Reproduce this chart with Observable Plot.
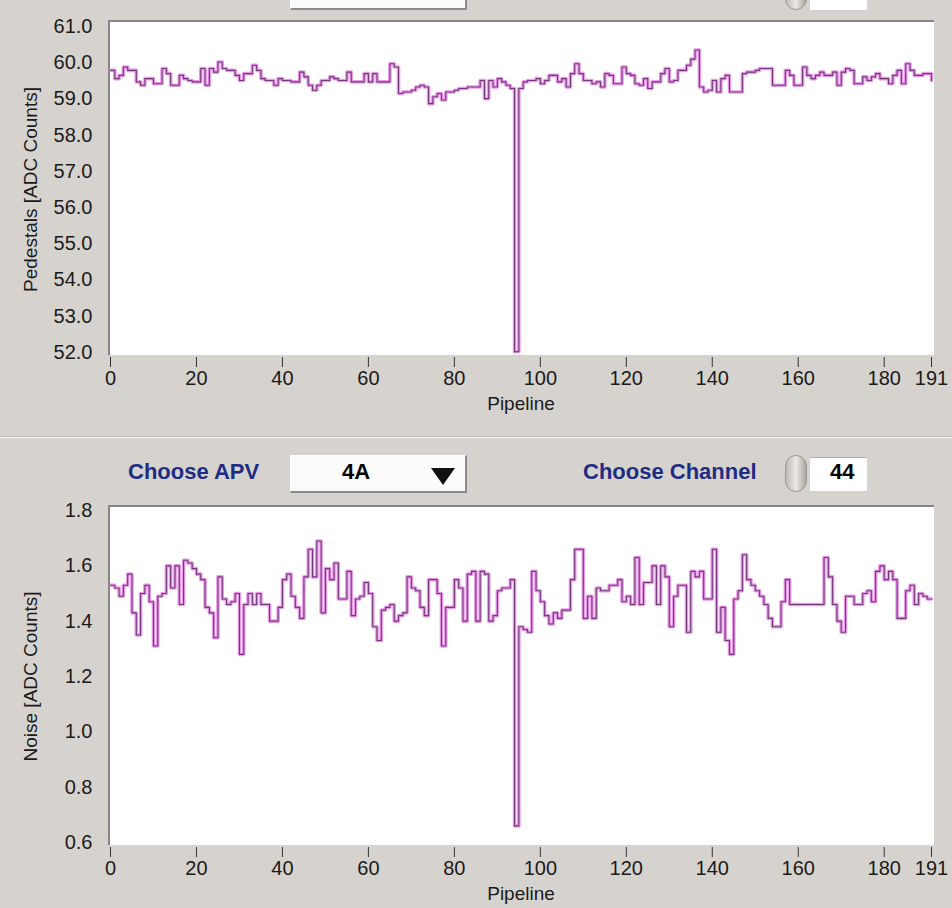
<!DOCTYPE html>
<html>
<head>
<meta charset="utf-8">
<script src="https://cdn.jsdelivr.net/npm/d3@7"></script>
<script src="https://cdn.jsdelivr.net/npm/@observablehq/plot@0.6"></script>
<style>
html,body{margin:0;padding:0;background:#d6d3ce;}
#page{position:relative;width:952px;height:908px;overflow:hidden;background:#d6d3ce;font-family:"Liberation Sans",Arial,sans-serif;}
.panel{position:absolute;background:#fff;border-top:2px solid #858585;border-left:2px solid #858585;box-sizing:border-box;}
.chart{position:absolute;left:0;}
.lbl{position:absolute;font-weight:bold;font-size:22px;color:#1f2c84;line-height:26px;white-space:nowrap;}
.drop{position:absolute;background:#fbfbfb;border-top:1px solid #fff;border-left:1px solid #fff;border-right:2px solid #8a8a8a;border-bottom:2px solid #8a8a8a;box-sizing:border-box;}
.val{position:absolute;font-weight:bold;font-size:22px;color:#000;line-height:26px;}
.tri{position:absolute;width:0;height:0;border-left:12px solid transparent;border-right:12px solid transparent;border-top:17px solid #111;}
.spin{position:absolute;width:22px;height:37px;border-radius:11px;background:linear-gradient(90deg,#bdbab4,#ebe9e4 50%,#a9a6a0);border:1px solid #9a9892;box-sizing:border-box;}
.box{position:absolute;background:#fff;border-top:1px solid #b0b0b0;box-sizing:border-box;}
.sep{position:absolute;left:0;width:952px;height:2px;border-top:1px solid #bdbab5;background:#f3f2ef;box-sizing:border-box;}
</style>
</head>
<body>
<div id="page">
  <!-- partially visible controls at top -->
  <div class="drop" style="left:290px;top:-28px;width:177px;height:38px;"></div>
  <div class="spin" style="left:785px;top:-27px;"></div>
  <div class="box" style="left:810px;top:-24px;width:57px;height:34px;"></div>

  <div class="panel" style="left:108px;top:20px;width:826px;height:335px;"></div>
  <div class="panel" style="left:108px;top:505px;width:826px;height:340px;"></div>

  <div class="sep" style="top:436px;"></div>

  <div class="lbl" style="left:128px;top:459px;">Choose APV</div>
  <div class="drop" style="left:290px;top:455px;width:177px;height:38px;"></div>
  <div class="val" style="left:342px;top:459px;">4A</div>
  <div class="tri" style="left:431px;top:468px;"></div>
  <div class="lbl" style="left:583px;top:459px;">Choose Channel</div>
  <div class="spin" style="left:785px;top:455px;"></div>
  <div class="box" style="left:810px;top:457px;width:57px;height:34px;"></div>
  <div class="val" style="left:830px;top:459px;">44</div>

  <div id="c1" class="chart" style="top:0px;"></div>
  <div id="c2" class="chart" style="top:440px;"></div>
</div>
<script>
// ---- data ----
const pipeline = d3.range(0, 192);
const xTicks = [0, 20, 40, 60, 80, 100, 120, 140, 160, 180, 191];
const pedestalTicks = [52, 53, 54, 55, 56, 57, 58, 59, 60, 61];
const noiseTicks = [0.6, 0.8, 1.0, 1.2, 1.4, 1.6, 1.8];

const pedestals = [
59.79,59.56,59.65,59.88,59.79,59.79,59.47,59.38,59.56,59.56,
59.42,59.42,59.84,59.70,59.38,59.38,59.65,59.56,59.51,59.47,
59.47,59.84,59.38,59.84,59.74,60.02,59.84,59.79,59.79,59.65,
59.51,59.70,59.70,59.93,59.79,59.56,59.51,59.51,59.38,59.56,
59.51,59.51,59.47,59.47,59.74,59.61,59.38,59.24,59.38,59.51,
59.51,59.61,59.56,59.51,59.51,59.74,59.47,59.47,59.47,59.70,
59.47,59.70,59.47,59.47,59.47,59.97,59.88,59.15,59.19,59.19,
59.24,59.33,59.38,59.33,58.87,59.06,59.15,58.97,59.19,59.19,
59.24,59.29,59.29,59.33,59.33,59.33,59.51,59.01,59.51,59.33,
59.56,59.47,59.38,59.29,52.02,59.29,59.47,59.51,59.51,59.56,
59.42,59.51,59.65,59.65,59.47,59.56,59.33,59.70,59.97,59.70,
59.51,59.51,59.42,59.47,59.33,59.70,59.65,59.42,59.42,59.88,
59.70,59.65,59.42,59.38,59.56,59.29,59.47,59.47,59.70,59.84,
59.47,59.51,59.79,59.79,59.93,60.10,60.35,59.33,59.19,59.24,
59.51,59.19,59.56,59.65,59.19,59.19,59.19,59.70,59.74,59.74,
59.79,59.84,59.84,59.84,59.38,59.38,59.38,59.79,59.65,59.38,
59.38,59.88,59.65,59.56,59.65,59.74,59.65,59.65,59.74,59.38,
59.74,59.84,59.79,59.42,59.42,59.61,59.51,59.61,59.70,59.56,
59.56,59.42,59.65,59.79,59.42,59.97,59.79,59.65,59.65,59.70,
59.70,59.51
];

const noise = [
1.53,1.52,1.49,1.53,1.57,1.43,1.35,1.50,1.53,1.47,
1.31,1.49,1.50,1.60,1.52,1.60,1.46,1.62,1.61,1.59,
1.57,1.55,1.45,1.43,1.34,1.56,1.48,1.46,1.47,1.50,
1.28,1.46,1.50,1.46,1.50,1.46,1.46,1.40,1.40,1.45,
1.55,1.57,1.49,1.45,1.41,1.56,1.66,1.56,1.69,1.43,
1.59,1.55,1.61,1.48,1.48,1.58,1.42,1.48,1.49,1.54,
1.50,1.38,1.33,1.44,1.45,1.46,1.40,1.42,1.43,1.56,
1.52,1.51,1.45,1.42,1.55,1.55,1.50,1.31,1.45,1.45,
1.55,1.52,1.40,1.57,1.58,1.40,1.58,1.57,1.40,1.42,
1.51,1.52,1.52,1.55,0.66,1.38,1.37,1.36,1.58,1.51,
1.47,1.42,1.39,1.43,1.41,1.44,1.44,1.55,1.66,1.66,
1.41,1.49,1.41,1.52,1.51,1.51,1.53,1.53,1.55,1.47,
1.49,1.46,1.63,1.46,1.54,1.54,1.60,1.46,1.60,1.56,
1.38,1.49,1.53,1.53,1.36,1.58,1.56,1.58,1.48,1.48,
1.66,1.36,1.45,1.33,1.28,1.48,1.51,1.64,1.55,1.53,
1.51,1.49,1.46,1.41,1.38,1.38,1.47,1.55,1.46,1.46,
1.46,1.46,1.46,1.46,1.46,1.46,1.63,1.56,1.46,1.40,
1.36,1.49,1.49,1.46,1.46,1.50,1.51,1.47,1.58,1.60,
1.55,1.58,1.55,1.41,1.41,1.51,1.53,1.46,1.50,1.49,
1.48,1.48
];

const pedTable = pipeline.map((p, i) => ({pipeline: p, value: pedestals[i]}));
const noiseTable = pipeline.map((p, i) => ({pipeline: p, value: noise[i]}));

const font = "'Liberation Sans', Arial, sans-serif";
const glow = "#e070e0", core = "#74387a";

function panel({data, yDomain, yTicks, yLabel, height, marginTop, marginBottom}) {
  return Plot.plot({
    width: 952,
    height,
    marginTop,
    marginBottom,
    marginLeft: 110,
    marginRight: 21,
    style: {background: "transparent", fontFamily: font, fontSize: "20px", color: "#1a1a1a", overflow: "visible"},
    x: {domain: [0, 191]},
    y: {domain: yDomain},
    marks: [
      Plot.axisX({ticks: xTicks, tickSize: 10, tickPadding: 3, dy: 5, label: null, stroke: "#333"}),
      Plot.axisY({ticks: yTicks, tickSize: 0, tickPadding: 18, tickFormat: d3.format(".1f"), label: null}),
      Plot.text(["Pipeline"], {frameAnchor: "bottom", dy: 57, fontSize: 19, fill: "#1a1a1a"}),
      Plot.text([yLabel], {frameAnchor: "left", textAnchor: "middle", dx: -80, rotate: -90, fontSize: 19, fill: "#1a1a1a"}),
      Plot.line(data, {x: "pipeline", y: "value", curve: "step-after", stroke: glow, strokeWidth: 3.6, strokeOpacity: 0.7}),
      Plot.line(data, {x: "pipeline", y: "value", curve: "step-after", stroke: core, strokeWidth: 1.1})
    ]
  });
}

document.getElementById("c1").append(panel({
  data: pedTable, yDomain: [52, 61], yTicks: pedestalTicks,
  yLabel: "Pedestals [ADC Counts]", height: 430, marginTop: 26, marginBottom: 78
}));
document.getElementById("c2").append(panel({
  data: noiseTable, yDomain: [0.6, 1.8], yTicks: noiseTicks,
  yLabel: "Noise [ADC Counts]", height: 468, marginTop: 70, marginBottom: 66
}));
</script>
</body>
</html>
